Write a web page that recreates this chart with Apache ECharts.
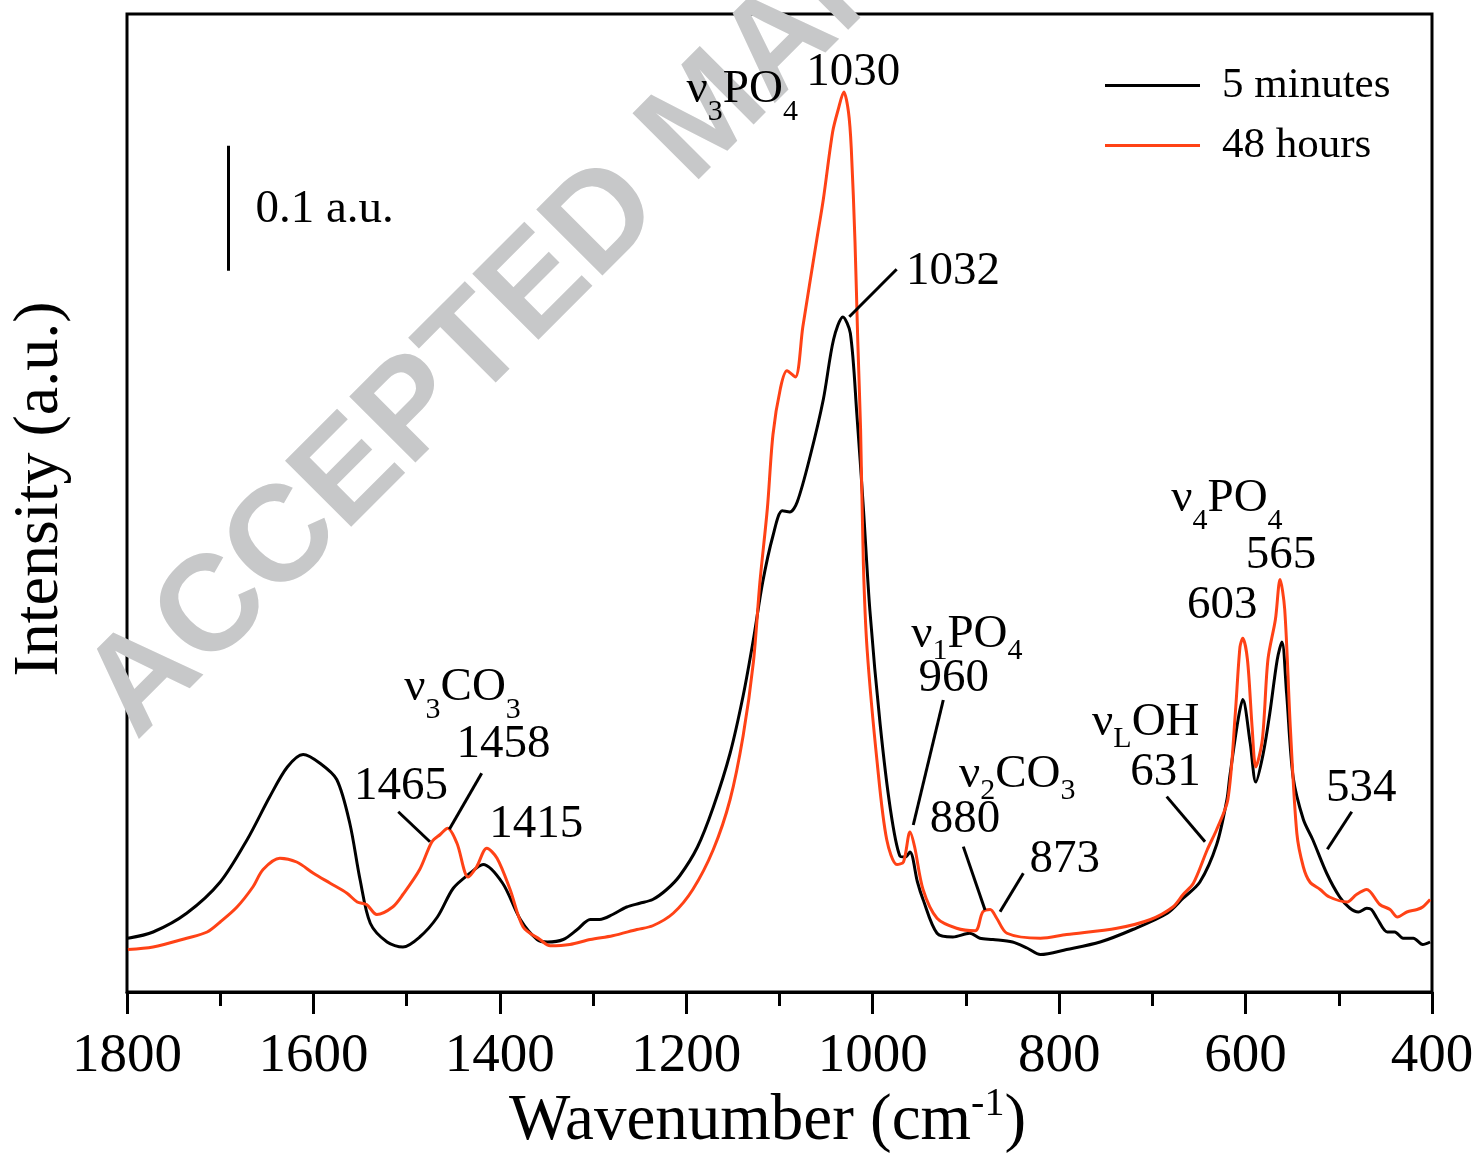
<!DOCTYPE html>
<html>
<head>
<meta charset="utf-8">
<script src="https://cdn.jsdelivr.net/npm/echarts@6.0.0/dist/echarts.min.js"></script>
<style>
  html, body { margin: 0; padding: 0; background: #fff; }
  #ftir { width: 1482px; height: 1154px; }
</style>
</head>
<body>
<div id="ftir"></div>
<script>
// FTIR spectra, values (a.u.)
var wn5min = [1799, 1772, 1736, 1700, 1671, 1647, 1628, 1611, 1593, 1575, 1561, 1550, 1539, 1521, 1504,
    1486, 1467, 1450, 1432, 1418, 1397, 1378, 1360, 1349, 1332, 1317, 1303, 1293, 1279, 1264, 1250,
    1236, 1221, 1207, 1188, 1171, 1153, 1139, 1128, 1118, 1107, 1097, 1089, 1081, 1067, 1053, 1042,
    1032, 1024, 1017, 1010, 1003, 992, 981, 971, 965, 960, 952, 946, 931, 914, 896, 885, 871,
    850, 834, 820, 792, 756, 721, 684, 667, 649, 631, 620, 617, 608, 603, 595, 589, 581, 574, 566,
    561, 556, 549, 538, 528, 513, 499, 488, 479, 470, 465, 459, 448, 440, 431, 420, 410, 402];
var int5min = [0.043, 0.048, 0.063, 0.088, 0.122, 0.156, 0.180, 0.190, 0.183, 0.170, 0.135, 0.090, 0.055, 0.040, 0.036,
    0.044, 0.060, 0.083, 0.095, 0.102, 0.087, 0.058, 0.042, 0.040, 0.042, 0.050, 0.058, 0.058, 0.062, 0.068, 0.071,
    0.074, 0.082, 0.093, 0.116, 0.148, 0.191, 0.237, 0.282, 0.328, 0.365, 0.385, 0.384, 0.392, 0.429, 0.474, 0.522,
    0.540, 0.527, 0.462, 0.387, 0.305, 0.214, 0.146, 0.109, 0.108, 0.112, 0.088, 0.074, 0.047, 0.044, 0.047, 0.043, 0.042,
    0.040, 0.035, 0.030, 0.034, 0.040, 0.050, 0.063, 0.075, 0.088, 0.118, 0.154, 0.172, 0.218, 0.234, 0.199, 0.168, 0.191, 0.223, 0.266,
    0.280, 0.239, 0.172, 0.138, 0.122, 0.095, 0.076, 0.067, 0.064, 0.067, 0.066, 0.059, 0.048, 0.048, 0.043, 0.043, 0.038, 0.040];

var wn48h = [1799, 1772, 1736, 1714, 1700, 1682, 1665, 1654, 1636, 1618, 1600, 1582, 1564, 1553, 1543,
    1532, 1515, 1504, 1486, 1473, 1464, 1456, 1446, 1434, 1425, 1414, 1403, 1389, 1375, 1357, 1346,
    1325, 1303, 1279, 1253, 1236, 1214, 1193, 1171, 1153, 1139, 1128, 1121, 1113, 1107, 1099, 1092,
    1083, 1075, 1060, 1053, 1043, 1037, 1031, 1026, 1023, 1019, 1016, 1013, 1010, 1006, 995, 985,
    974, 967, 960, 955, 946, 931, 910, 890, 882, 874, 867, 856, 820, 792, 738, 702, 678, 667, 656,
    641, 631, 619, 611, 606, 603, 598, 593, 589, 582, 576, 568, 563, 558, 552, 545, 538, 531, 520,
    510, 491, 481, 470, 456, 445, 437, 427, 416, 410, 402];
var int48h = [0.034, 0.036, 0.043, 0.048, 0.056, 0.068, 0.084, 0.098, 0.107, 0.104, 0.095, 0.087, 0.079, 0.072, 0.070,
    0.062, 0.068, 0.078, 0.098, 0.120, 0.126, 0.131, 0.119, 0.092, 0.100, 0.115, 0.107, 0.082, 0.052, 0.042, 0.037,
    0.038, 0.042, 0.045, 0.050, 0.053, 0.063, 0.082, 0.114, 0.154, 0.205, 0.264, 0.328, 0.387, 0.446, 0.483, 0.497,
    0.492, 0.532, 0.602, 0.634, 0.688, 0.706, 0.720, 0.704, 0.675, 0.600, 0.520, 0.450, 0.342, 0.274, 0.182, 0.122,
    0.102, 0.104, 0.128, 0.116, 0.082, 0.059, 0.051, 0.049, 0.064, 0.066, 0.059, 0.047, 0.043, 0.046, 0.051, 0.058, 0.068, 0.078, 0.087,
    0.114, 0.130, 0.154, 0.223, 0.276, 0.283, 0.266, 0.212, 0.180, 0.202, 0.266, 0.298, 0.330, 0.306, 0.212, 0.127, 0.100, 0.088, 0.082,
    0.076, 0.072, 0.078, 0.082, 0.070, 0.066, 0.060, 0.064, 0.066, 0.068, 0.074];

var seriesNames = ['5 minutes', '48 hours'];

// band labels: [text, wavenumber, intensity]
var notes = [
    ['{m|ν}{s|3}{m|PO}{s|4}', 1140, 0.7216],
    ['{m|1030}', 1021, 0.7352],
    ['{m|1032}', 914, 0.576],
    ['{m|0.1 a.u.}', 1588, 0.6256],
    ['{m|ν}{s|3}{m|CO}{s|3}', 1440, 0.2432],
    ['{m|1458}', 1396, 0.1976],
    ['{m|1465}', 1506, 0.164],
    ['{m|1415}', 1361, 0.1336],
    ['{m|ν}{t|1}{m|PO}{t|4}', 899, 0.2856],
    ['{m|960}', 913, 0.2504],
    ['{m|ν}{t|2}{m|CO}{t|3}', 845, 0.1736],
    ['{m|880}', 901, 0.1376],
    ['{m|873}', 794, 0.1056],
    ['{m|ν}{t|L}{m|OH}', 707, 0.2152],
    ['{m|631}', 686, 0.1752],
    ['{m|ν}{s|4}{m|PO}{s|4}', 620, 0.394],
    ['{m|565}', 562, 0.3488],
    ['{m|603}', 625, 0.3088],
    ['{m|534}', 476, 0.1624]
];

// leader lines and the 0.1 a.u. scale bar
var leaders = [
    [[974.3, 0.5782], [1025.1, 0.5402]],
    [[1509, 0.1442], [1475, 0.1202]],
    [[1419.5, 0.175], [1454.2, 0.1302]],
    [[924.3, 0.2336], [956.5, 0.1336]],
    [[902.8, 0.1163], [879.5, 0.0656]],
    [[838.4, 0.095], [863.4, 0.0642]],
    [[684.6, 0.1563], [643.5, 0.1202]],
    [[486.1, 0.1442], [512.3, 0.1142]],
    [[1690.9, 0.677], [1690.9, 0.577]]
];

function pairs(xs, ys) {
    var out = [];
    for (var i = 0; i < xs.length; i++) out.push([xs[i], ys[i]]);
    return out;
}

var serif = 'Liberation Serif';

var chart = echarts.init(document.getElementById('ftir'));

var option = {
    animation: false,
    backgroundColor: '#fff',
    grid: {
        left: 127, right: 50, top: 14, bottom: 162,
        outerBoundsMode: 'none',
        show: true, borderColor: '#000', borderWidth: 3
    },
    legend: {
        data: [
            { name: seriesNames[0], icon: 'rect' },
            { name: seriesNames[1], icon: 'rect' }
        ],
        orient: 'vertical',
        left: 1100,
        top: 59,
        itemWidth: 95,
        itemHeight: 3,
        itemGap: 17,
        textStyle: { fontFamily: serif, fontSize: 43, color: '#000', padding: [0, 0, 0, 17] }
    },
    graphic: [{
        type: 'text',
        x: 110, y: 715,
        rotation: Math.PI / 4,
        z: 0,
        silent: true,
        style: {
            text: 'ACCEPTED MANUSCRIPT',
            font: 'bold 136px "Liberation Sans"',
            fill: '#c7c8c9',
            textAlign: 'left',
            textVerticalAlign: 'middle'
        }
    }],
    xAxis: {
        type: 'value',
        min: 400, max: 1800, interval: 200,
        inverse: true,
        name: '{a|Wavenumber (cm}{b|-1}{a|)}',
        nameLocation: 'middle',
        nameGap: 92,
        nameMoveOverlap: false,
        nameTextStyle: {
            padding: [0, 24, 0, 0],
            rich: {
                a: { fontFamily: serif, fontSize: 65, lineHeight: 64, padding: [5, 0, 0, 0], verticalAlign: 'top', color: '#000' },
                b: { fontFamily: serif, fontSize: 40, lineHeight: 40, verticalAlign: 'top', color: '#000' }
            }
        },
        axisLine: { show: true, lineStyle: { color: '#000', width: 3 } },
        axisTick: { show: true, length: 22, lineStyle: { color: '#000', width: 3 } },
        minorTick: { show: true, splitNumber: 2, length: 14, lineStyle: { color: '#000', width: 3 } },
        axisLabel: {
            fontFamily: serif, fontSize: 55, color: '#000', margin: 37,
            formatter: function (v) { return String(v); }
        },
        splitLine: { show: false },
        minorSplitLine: { show: false }
    },
    yAxis: {
        type: 'value',
        min: 0, max: 0.7824,
        name: 'Intensity (a.u.)',
        nameLocation: 'middle',
        nameGap: 55,
        nameMoveOverlap: false,
        nameTextStyle: { fontFamily: serif, fontSize: 64, color: '#000', padding: [0, 0, 0, 28] },
        axisLine: { show: false },
        axisTick: { show: false },
        axisLabel: { show: false },
        splitLine: { show: false }
    },
    series: [
        {
            name: seriesNames[0],
            type: 'line',
            data: pairs(wn5min, int5min),
            symbol: 'none',
            smooth: 0.3,
            z: 3,
            color: '#000',
            lineStyle: { color: '#000', width: 3 }
        },
        {
            name: seriesNames[1],
            type: 'line',
            data: pairs(wn48h, int48h),
            symbol: 'none',
            smooth: 0.3,
            z: 4,
            color: '#ff4216',
            lineStyle: { color: '#ff4216', width: 3 }
        },
        {
            name: 'notes',
            type: 'scatter',
            symbolSize: 0,
            silent: true,
            z: 6,
            itemStyle: { opacity: 1 },
            data: notes.map(function (n) {
                return { value: [n[1], n[2]], label: { formatter: n[0] } };
            }),
            label: {
                show: true,
                position: 'inside',
                color: '#000',
                opacity: 1,
                textBorderWidth: 0,
                rich: {
                    m: { fontFamily: serif, fontSize: 47, lineHeight: 48, verticalAlign: 'top', color: '#000' },
                    s: { fontFamily: serif, fontSize: 30, lineHeight: 30, padding: [31, 0, 0, 0], verticalAlign: 'top', color: '#000' },
                    t: { fontFamily: serif, fontSize: 30, lineHeight: 30, padding: [25, 0, 6, 0], verticalAlign: 'top', color: '#000' }
                }
            },
            markLine: {
                silent: true,
                symbol: ['none', 'none'],
                label: { show: false },
                lineStyle: { color: '#000', width: 3, type: 'solid', opacity: 1 },
                data: leaders.map(function (l) {
                    return [{ coord: l[0] }, { coord: l[1] }];
                })
            }
        }
    ]
};

chart.setOption(option);
</script>
</body>
</html>
